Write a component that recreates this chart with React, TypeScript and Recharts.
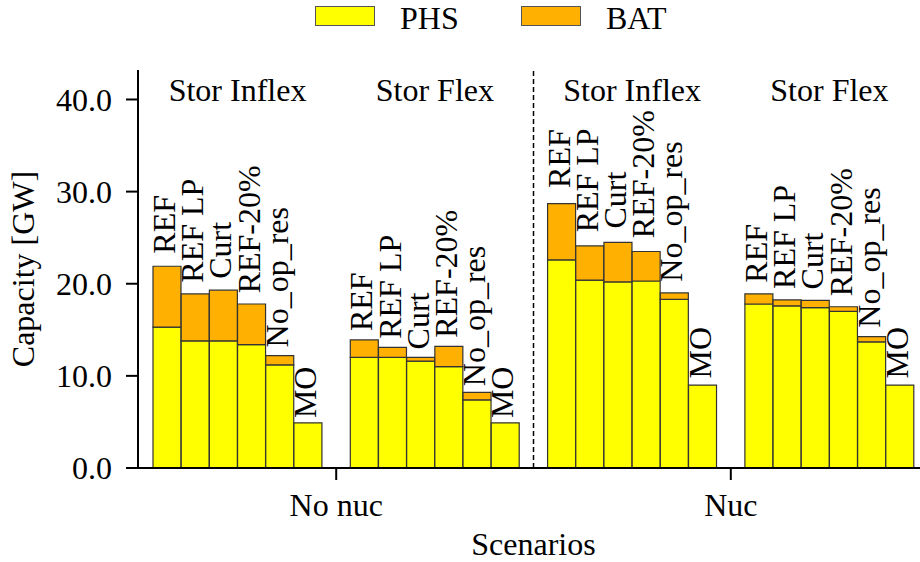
import {
  BarChart,
  Bar,
  XAxis,
  YAxis,
  Legend,
  LabelList,
  Label,
  ReferenceArea,
  ReferenceLine,
} from 'recharts'

const FONT = "'Liberation Serif', 'DejaVu Serif', serif"
const FS = 32

const scenarios = ['REF', 'REF LP', 'Curt', 'REF-20%', 'No_op_res', 'MO']
const storGroups = ['Stor Inflex', 'Stor Flex']
const nucGroups = ['No nuc', 'Nuc']
const yTicks = [0, 10, 20, 30, 40]

// PHS / BAT capacity [GW], one list per nuc case and storage case
const phsNoNucInflex = [15.3, 13.8, 13.8, 13.4, 11.2, 4.9]
const batNoNucInflex = [6.6, 5.1, 5.5, 4.4, 1.0, 0]
const phsNoNucFlex = [12.0, 12.0, 11.6, 11.0, 7.4, 4.9]
const batNoNucFlex = [1.9, 1.1, 0.4, 2.2, 0.8, 0]
const phsNucInflex = [22.6, 20.4, 20.2, 20.3, 18.3, 9.0]
const batNucInflex = [6.1, 3.7, 4.3, 3.2, 0.7, 0]
const phsNucFlex = [17.8, 17.6, 17.4, 17.0, 13.7, 9.0]
const batNucFlex = [1.1, 0.65, 0.8, 0.5, 0.55, 0]

const phsValues = [
  [phsNoNucInflex, phsNoNucFlex],
  [phsNucInflex, phsNucFlex],
]
const batValues = [
  [batNoNucInflex, batNoNucFlex],
  [batNucInflex, batNucFlex],
]

const series = [
  { key: 'phs', name: 'PHS', color: '#ffff00' },
  { key: 'bat', name: 'BAT', color: '#ffb000' },
]

type Row = { key: string; scen: string; phs: number | null; bat: number | null }

const rows: Row[] = []
nucGroups.forEach((nuc, i) => {
  storGroups.forEach((stor, j) => {
    scenarios.forEach((scen, k) =>
      rows.push({ key: `${nuc}|${stor}|${scen}`, scen, phs: phsValues[i][j][k], bat: batValues[i][j][k] })
    )
    // empty slot between the two storage groups carries the nuc tick
    if (j === 0) rows.push({ key: nuc, scen: '', phs: null, bat: null })
  })
  if (i === 0) rows.push({ key: 'sep', scen: '', phs: null, bat: null })
})

function BarName(props: any) {
  const vb = props.viewBox || props
  const row = rows.find((r) => r.key === props.value)
  if (!row || !row.scen || !row.phs) return null
  const x = vb.x
  const y = vb.y
  const w = vb.width
  const h = vb.height
  const ppu = h / row.phs
  const top = y - (row.bat || 0) * ppu
  const gap = 2.5 + 0.05 * (y + h - top)
  const tx = x + w * 0.79
  const ty = top - gap
  return (
    <text
      x={tx}
      y={ty}
      transform={`rotate(-90 ${tx} ${ty})`}
      fontSize={FS}
      fontFamily={FONT}
      fill="#000"
      textAnchor="start"
    >
      {row.scen}
    </text>
  )
}

const renderLegend = () => (
  <div style={{ position: 'relative', width: 920, height: 40, fontFamily: FONT, fontSize: FS, color: '#000' }}>
    {series.map((s, i) => {
      const left = 315 + i * 206
      return (
        <div key={s.key}>
          <div
            style={{
              position: 'absolute',
              left,
              top: 6,
              width: 58,
              height: 18,
              background: s.color,
              border: '1.5px solid #555',
            }}
          />
          <div style={{ position: 'absolute', left: left + 85, top: 0, lineHeight: '36px' }}>{s.name}</div>
        </div>
      )
    })}
  </div>
)

export default function App() {
  return (
    <div
      style={{
        position: 'absolute',
        left: 0,
        top: 0,
        width: 920,
        height: 562,
        overflow: 'hidden',
        background: '#fff',
        fontFamily: FONT,
        fontSize: FS,
      }}
    >
      <BarChart
        width={940}
        height={562}
        data={rows}
        margin={{ top: 70, right: 11, left: 0, bottom: 0 }}
        barCategoryGap={0}
        barGap={0}
        style={{ fontFamily: FONT }}
      >
        <Legend
          layout="vertical"
          align="center"
          verticalAlign="middle"
          content={renderLegend}
          wrapperStyle={{ top: 0, left: 0, width: 920, height: 40 }}
        />
        <XAxis
          dataKey="key"
          ticks={nucGroups}
          interval={0}
          height={94}
          padding={{ left: 15, right: 15 }}
          tickSize={12}
          tickMargin={13}
          axisLine={{ stroke: '#000', strokeWidth: 2 }}
          tickLine={{ stroke: '#000', strokeWidth: 2 }}
          tick={{ fill: '#000', fontSize: FS, fontFamily: FONT }}
        >
          <Label value="Scenarios" position="insideBottom" offset={7} fill="#000" fontSize={FS} fontFamily={FONT} />
        </XAxis>
        <XAxis
          xAxisId="top"
          dataKey="key"
          orientation="top"
          height={0}
          tick={false}
          tickLine={false}
          axisLine={{ stroke: '#000', strokeWidth: 2 }}
        />
        <YAxis
          type="number"
          domain={[0, 43.2]}
          ticks={yTicks}
          width={138}
          tickSize={12}
          tickMargin={14}
          tickFormatter={(v: number) => v.toFixed(1)}
          axisLine={{ stroke: '#000', strokeWidth: 2 }}
          tickLine={{ stroke: '#000', strokeWidth: 2 }}
          tick={{ fill: '#000', fontSize: FS, fontFamily: FONT }}
        >
          <Label
            value="Capacity [GW]"
            angle={-90}
            position="center"
            dx={-46}
            fill="#000"
            fontSize={FS}
            fontFamily={FONT}
          />
        </YAxis>
        {nucGroups.map((nuc) =>
          storGroups.map((stor) => (
            <ReferenceArea
              key={`${nuc}-${stor}`}
              x1={`${nuc}|${stor}|${scenarios[0]}`}
              x2={`${nuc}|${stor}|${scenarios[scenarios.length - 1]}`}
              ifOverflow="visible"
              fillOpacity={0}
              strokeOpacity={0}
              label={{ value: stor, position: 'insideTop', offset: 8, fill: '#000', fontSize: FS, fontFamily: FONT }}
            />
          ))
        )}
        <ReferenceLine x="sep" stroke="#000" strokeWidth={1.5} strokeDasharray="5 3" />
        <Bar dataKey="phs" name="PHS" stackId="a" fill="#ffff00" stroke="#333" strokeWidth={1.2} isAnimationActive={false}>
          <LabelList dataKey="key" content={BarName} />
        </Bar>
        <Bar dataKey="bat" name="BAT" stackId="a" fill="#ffb000" stroke="#333" strokeWidth={1.2} isAnimationActive={false} />
      </BarChart>
    </div>
  )
}
